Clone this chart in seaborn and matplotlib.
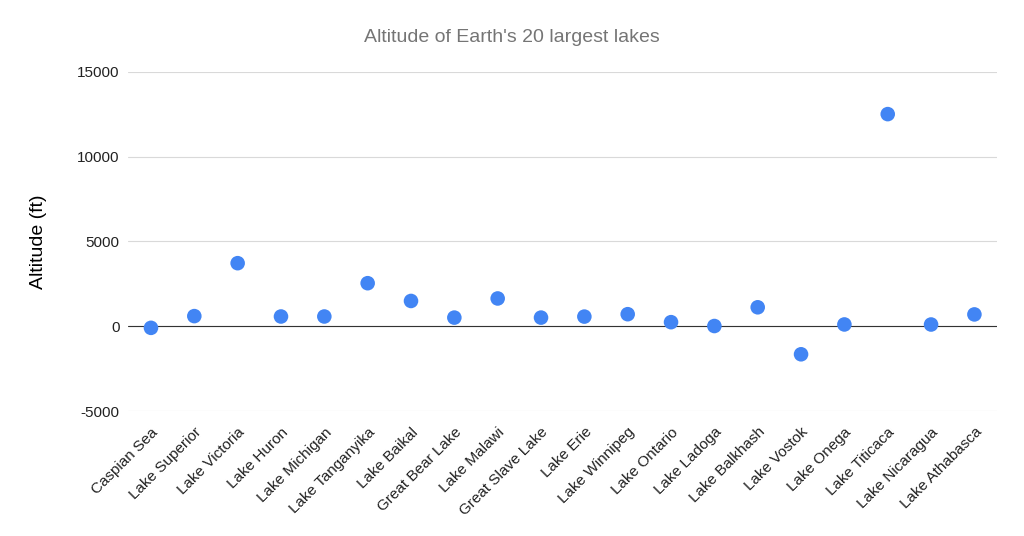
import matplotlib
matplotlib.use("Agg")
import matplotlib.pyplot as plt
import seaborn as sns
import pandas as pd

lakes = ["Caspian Sea", "Lake Superior", "Lake Victoria", "Lake Huron", "Lake Michigan",
         "Lake Tanganyika", "Lake Baikal", "Great Bear Lake", "Lake Malawi", "Great Slave Lake",
         "Lake Erie", "Lake Winnipeg", "Lake Ontario", "Lake Ladoga", "Lake Balkhash",
         "Lake Vostok", "Lake Onega", "Lake Titicaca", "Lake Nicaragua", "Lake Athabasca"]
altitude = [-92, 600, 3720, 577, 577, 2540, 1493, 512, 1640, 512,
            571, 713, 243, 16, 1120, -1650, 108, 12507, 105, 700]

df = pd.DataFrame({"lake": lakes, "altitude": altitude})

sns.set_style("white")
plt.rcParams['font.family'] = ['Liberation Sans', 'DejaVu Sans']
plt.rcParams['axes.unicode_minus'] = False

fig = plt.figure(figsize=(10.24, 5.36), dpi=100)
ax = fig.add_axes([0.125, 0.233, 0.849, 0.633])
sns.scatterplot(data=df, x="lake", y="altitude", color="#4285f4", s=110, edgecolor="none", ax=ax, zorder=3)

ax.set_ylim(-5000, 15000)
ax.set_yticks([-5000, 0, 5000, 10000, 15000])
ax.set_xlim(-0.53, 19.53)
ax.grid(axis="y", color="#d9d9d9", linewidth=0.8)
ax.axhline(0, color="#333333", linewidth=0.8, zorder=2)
for s in ax.spines.values():
    s.set_visible(False)
ax.tick_params(axis="both", length=0, labelsize=11, colors="#222222")
ax.tick_params(axis="x", pad=10)
ax.tick_params(axis="y", pad=6)
plt.setp(ax.get_xticklabels(), rotation=45, ha="right", rotation_mode="anchor")
ax.set_xlabel("")
ax.set_ylabel("Altitude (ft)", fontsize=14, labelpad=22, color="black")
fig.suptitle("Altitude of Earth's 20 largest lakes", y=0.945, fontsize=14, color="#757575")

fig.savefig("out.png", dpi=100)
